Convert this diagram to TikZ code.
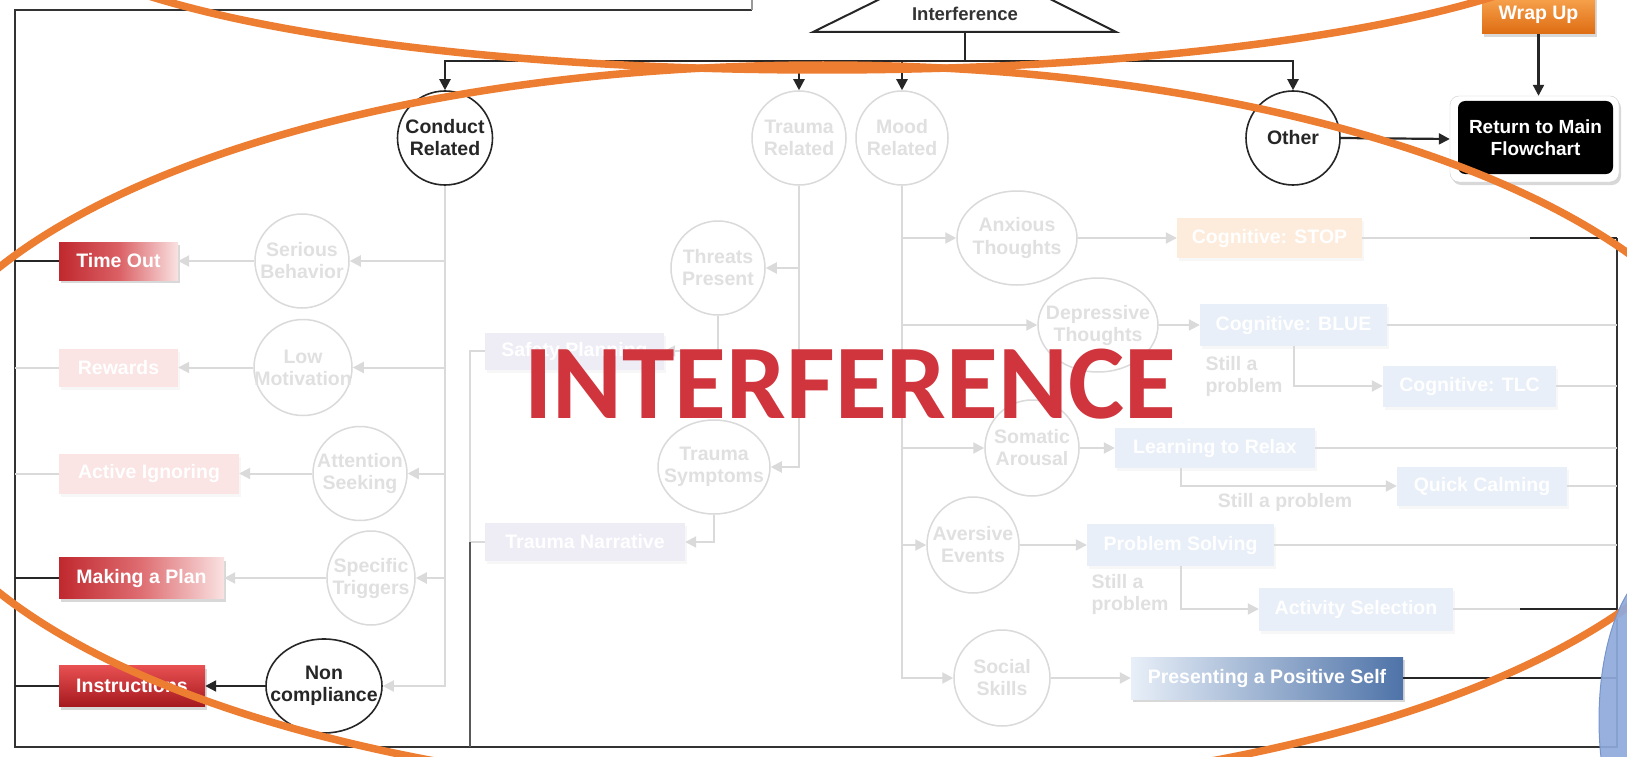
\documentclass[tikz,border=0pt]{standalone}
\usepackage{fontspec}
\setmainfont{Liberation Sans}
\newfontfamily\calfont{Carlito}
\usetikzlibrary{arrows.meta,shapes.geometric,shadows}
\definecolor{fl}{RGB}{218,218,218}
\definecolor{ft}{RGB}{224,224,224}
\definecolor{orng}{RGB}{237,125,49}
\definecolor{blu}{RGB}{143,170,220}
\definecolor{redt}{RGB}{208,52,60}
\definecolor{fred}{RGB}{250,228,228}
\definecolor{flav}{RGB}{238,237,246}
\definecolor{fblue}{RGB}{232,239,248}
\definecolor{forg}{RGB}{253,236,220}
\begin{document}
\begin{tikzpicture}[x=1pt,y=-1pt,
  lab/.style={font=\fontsize{19.5}{22}\selectfont\bfseries, align=center},
  ctext/.style={lab, text=ft},
  btext/.style={lab, text=black!85},
  fcirc/.style={ellipse, draw=fl, line width=1.5pt, inner sep=0pt},
  bcirc/.style={ellipse, draw=black!85, line width=1.6pt, inner sep=0pt, fill=white},
  box/.style={lab, rectangle, text=white, inner sep=0pt},
  fshadow/.style={drop shadow={shadow xshift=2pt,shadow yshift=-3pt,opacity=.06}},
  dshadow/.style={drop shadow={shadow xshift=2pt,shadow yshift=-3pt,opacity=.3}},
  fln/.style={draw=fl, line width=2pt},
  farr/.style={fln, -{Triangle[length=11pt,width=11pt]}},
  bln/.style={draw=black!85, line width=2.2pt},
  barr/.style={bln, -{Triangle[length=11pt,width=11pt]}},
]
\useasboundingbox (0,0) rectangle (1627,757);
\fill[white] (0,0) rectangle (1627,757);
\begin{scope}
\clip (0,0) rectangle (1627,757);

% named coordinates
\coordinate (lvtop) at (15,10);
\coordinate (lvbot) at (15,747);
\coordinate (rvtop) at (1617,238);
\coordinate (rvbot) at (1617,747);
\coordinate (topend) at (752,10);
\coordinate (topstub) at (752,-3);
\coordinate (tvx) at (470,747);
\coordinate (tribase) at (965,32);
\coordinate (br) at (965,61);
\coordinate (rqx) at (1181,0);
\coordinate (stopd) at (1530,238);
\coordinate (actd) at (1520,609);

% triangle
\draw[line width=2pt, black!85] (884,-3) -- (813,32) -- (1116,32) -- (1046,-3);
\node[lab, text=black!80, font=\fontsize{18.5}{22}\selectfont\bfseries] (interf) at (965,14) {Interference};

% top level circles
\node[bcirc, minimum width=95pt, minimum height=94pt] (conduct) at (445,138) {};
\node[btext] (conductt) at (conduct) {Conduct\\Related};
\node[fcirc, minimum width=94pt, minimum height=94pt] (trauma) at (799,138) {};
\node[ctext] (traumat) at (trauma) {Trauma\\Related};
\node[fcirc, minimum width=92pt, minimum height=94pt] (mood) at (902,138) {};
\node[ctext] (moodt) at (mood) {Mood\\Related};
\node[bcirc, minimum width=94pt, minimum height=94pt] (other) at (1293,138) {};
\node[btext] (othert) at (other) {Other};

% return / wrap up
\node[draw=black!20, fill=white, rounded corners=9pt, minimum width=169pt, minimum height=86pt, dshadow] (retf) at (1534.5,139) {};
\node[box, fill=black, rounded corners=7pt, minimum width=155pt, minimum height=73pt, font=\fontsize{19}{22}\selectfont\bfseries] (ret) at (1535.5,137.5) {Return to Main\\Flowchart};
\node[box, minimum width=113pt, minimum height=38pt, top color={rgb,255:red,248;green,165;blue,80}, bottom color={rgb,255:red,222;green,108;blue,18}, dshadow] (wrap) at (1538.5,15) {Wrap Up};

% conduct column circles
\node[fcirc, minimum width=94pt, minimum height=94pt] (serious) at (302,261) {};
\node[ctext] (seriousT) at (serious) {Serious\\Behavior};
\node[fcirc, minimum width=98pt, minimum height=96pt] (low) at (303,367.5) {};
\node[ctext] (lowT) at (low) {Low\\Motivation};
\node[fcirc, minimum width=94pt, minimum height=94pt] (attn) at (360,473.5) {};
\node[ctext] (attnT) at (attn) {Attention\\Seeking};
\node[fcirc, minimum width=88pt, minimum height=94pt] (trig) at (371,578) {};
\node[ctext] (trigT) at (trig) {Specific\\Triggers};
\node[bcirc, minimum width=116pt, minimum height=94pt] (noncomp) at (324,686) {};
\node[btext] (noncompT) at (noncomp) {Non\\compliance};

% red boxes
\node[box, minimum width=119pt, minimum height=38pt, left color={rgb,255:red,192;green,40;blue,46}, right color={rgb,255:red,250;green,226;blue,226}, middle color={rgb,255:red,218;green,96;blue,100}, dshadow] (timeout) at (118.5,261) {Time Out};
\node[box, minimum width=119pt, minimum height=38pt, fill=fred, fshadow] (rewards) at (118.5,367.5) {Rewards};
\node[box, minimum width=180pt, minimum height=40pt, fill=fred, fshadow] (ignoring) at (149,473.5) {Active Ignoring};
\node[box, minimum width=165pt, minimum height=41pt, left color={rgb,255:red,192;green,40;blue,46}, right color={rgb,255:red,250;green,226;blue,226}, middle color={rgb,255:red,222;green,110;blue,114}, dshadow] (plan) at (141.5,578) {Making a Plan};
\node[box, minimum width=146pt, minimum height=41pt, top color={rgb,255:red,232;green,80;blue,82}, bottom color={rgb,255:red,165;green,25;blue,30}, dshadow] (instr) at (132,686) {Instructions};

% trauma column
\node[fcirc, minimum width=94pt, minimum height=94pt] (threats) at (718,268) {};
\node[ctext] (threatsT) at (threats) {Threats\\Present};
\node[fcirc, minimum width=112pt, minimum height=94pt] (tsymp) at (714,467) {};
\node[ctext] (tsympT) at (tsymp) {Trauma\\Symptoms};
\node[box, minimum width=179pt, minimum height=37pt, fill=flav, fshadow] (safety) at (574.5,351) {Safety Planning};
\node[box, minimum width=200pt, minimum height=38pt, fill=flav, fshadow] (narrative) at (585,542) {Trauma Narrative};

% mood column
\node[fcirc, minimum width=120pt, minimum height=94pt] (anx) at (1017,238) {};
\node[ctext] (anxT) at (anx) {Anxious\\Thoughts};
\node[fcirc, minimum width=120pt, minimum height=94pt] (dep) at (1098,325) {};
\node[ctext] (depT) at (dep) {Depressive\\Thoughts};
\node[fcirc, minimum width=94pt, minimum height=96pt] (som) at (1032,448) {};
\node[ctext] (somT) at (som) {Somatic\\Arousal};
\node[fcirc, minimum width=92pt, minimum height=96pt] (av) at (973,545) {};
\node[ctext] (avT) at (av) {Aversive\\Events};
\node[fcirc, minimum width=96pt, minimum height=96pt] (social) at (1002,678) {};
\node[ctext] (socialT) at (social) {Social\\Skills};

\node[box, minimum width=185pt, minimum height=40pt, fill=forg, fshadow] (stop) at (1269.5,238) {Cognitive: STOP};
\node[box, minimum width=187pt, minimum height=42pt, fill=fblue, fshadow] (blue) at (1293.5,325) {Cognitive: BLUE};
\node[box, minimum width=173pt, minimum height=41pt, fill=fblue, fshadow] (tlc) at (1469.5,386) {Cognitive: TLC};
\node[box, minimum width=200pt, minimum height=40pt, fill=fblue, fshadow] (relax) at (1215,448) {Learning to Relax};
\node[box, minimum width=170pt, minimum height=39pt, fill=fblue, fshadow] (quick) at (1482,486) {Quick Calming};
\node[box, minimum width=187pt, minimum height=42pt, fill=fblue, fshadow] (ps) at (1180.5,545) {Problem Solving};
\node[box, minimum width=194pt, minimum height=43pt, fill=fblue, fshadow] (activity) at (1356,609) {Activity Selection};
\node[box, minimum width=272pt, minimum height=42pt, left color=fblue, middle color={rgb,255:red,205;green,220;blue,238}, right color={rgb,255:red,78;green,115;blue,168}, dshadow] (present) at (1267,678) {Presenting a Positive Self};

\node[ctext, align=left, anchor=west] (sp1) at (1202,376) {Still a\\problem};
\node[ctext] (sp2) at (1285,502) {Still a problem};
\node[ctext, align=left, anchor=west] (sp3) at (1088,594) {Still a\\problem};

% outer loop
\draw[line width=2.2pt, black!80] (rvtop) -- (rvbot) -- (lvbot) -- (lvtop) -- (topend);
\draw[line width=1.5pt, black!40] (topend) -- (topstub);

% top branch
\draw[bln] (tribase) -- (br);
\draw[barr] (br) -| (conduct.north);
\draw[barr] (br) -| (trauma.north);
\draw[barr] (br) -| (mood.north);
\draw[barr] (br) -| (other.north);
\draw[barr] (other.east) -- (retf.west);
\draw[barr] (wrap.south) -- (wrap.south |- retf.north);

% conduct branch
\draw[farr] (conduct.south) |- (serious.east);
\draw[farr] (conduct.south) |- (low.east);
\draw[farr] (conduct.south) |- (attn.east);
\draw[farr] (conduct.south) |- (trig.east);
\draw[farr] (conduct.south) |- (noncomp.east);
\draw[farr] (serious.west) -- (timeout.east);
\draw[farr] (low.west) -- (rewards.east);
\draw[farr] (attn.west) -- (ignoring.east);
\draw[farr] (trig.west) -- (plan.east);
\draw[barr] (noncomp.west) -- (instr.east);
\draw[bln] (timeout.west) -- (timeout.west -| lvtop);
\draw[fln] (rewards.west) -- (rewards.west -| lvtop);
\draw[fln] (ignoring.west) -- (ignoring.west -| lvtop);
\draw[bln] (plan.west) -- (plan.west -| lvtop);
\draw[bln] (instr.west) -- (instr.west -| lvtop);

% trauma branch
\draw[farr] (trauma.south) |- (threats.east);
\draw[farr] (trauma.south) |- (tsymp.east);
\draw[farr] (threats.south) |- (safety.east);
\draw[farr] (tsymp.south) |- (narrative.east);
\draw[fln] (safety.west) -- (safety.west -| tvx) -- (narrative.west -| tvx);
\draw[fln] (narrative.west) -- (narrative.west -| tvx);
\draw[draw=black!65, line width=2pt] (narrative.west -| tvx) -- (tvx);

% mood branch
\draw[farr] (mood.south) |- (anx.west);
\draw[farr] (mood.south) |- (dep.west);
\draw[farr] (mood.south) |- (som.west);
\draw[farr] (mood.south) |- (av.west);
\draw[farr] (mood.south) |- (social.west);
\draw[farr] (anx.east) -- (stop.west);
\draw[farr] (dep.east) -- (blue.west);
\draw[farr] (blue.south) |- (tlc.west);
\draw[farr] (som.east) -- (relax.west);
\draw[farr] (relax.south -| rqx) |- (quick.west);
\draw[farr] (av.east) -- (ps.west);
\draw[farr] (ps.south) |- (activity.west);
\draw[farr] (social.east) -- (present.west);

% to right loop
\draw[fln] (stop.east) -- (stop.east -| rvtop);
\draw[bln] (stopd) -- (stop.east -| rvtop);
\draw[fln] (blue.east) -- (blue.east -| rvtop);
\draw[fln] (tlc.east) -- (tlc.east -| rvtop);
\draw[fln] (relax.east) -- (relax.east -| rvtop);
\draw[fln] (quick.east) -- (quick.east -| rvtop);
\draw[fln] (ps.east) -- (ps.east -| rvtop);
\draw[fln] (activity.east) -- (activity.east -| rvtop);
\draw[bln] (actd) -- (activity.east -| rvtop);
\draw[bln] (present.east) -- (present.east -| rvtop);

% overlays
\draw[orng, line width=7.5pt] (822,-91) ellipse [x radius=800, y radius=161];
\draw[orng, line width=7.5pt] (823,430) ellipse [x radius=920, y radius=365];
\filldraw[fill=blu, draw={rgb,255:red,120;green,148;blue,204}, line width=1pt, fill opacity=.92] (1665,720) ellipse [x radius=66, y radius=154];
\node[font=\calfont\bfseries\fontsize{106}{110}\selectfont, text=redt, inner sep=0pt] (big) at (850,384) {INTERFERENCE};
\end{scope}
\end{tikzpicture}
\end{document}
